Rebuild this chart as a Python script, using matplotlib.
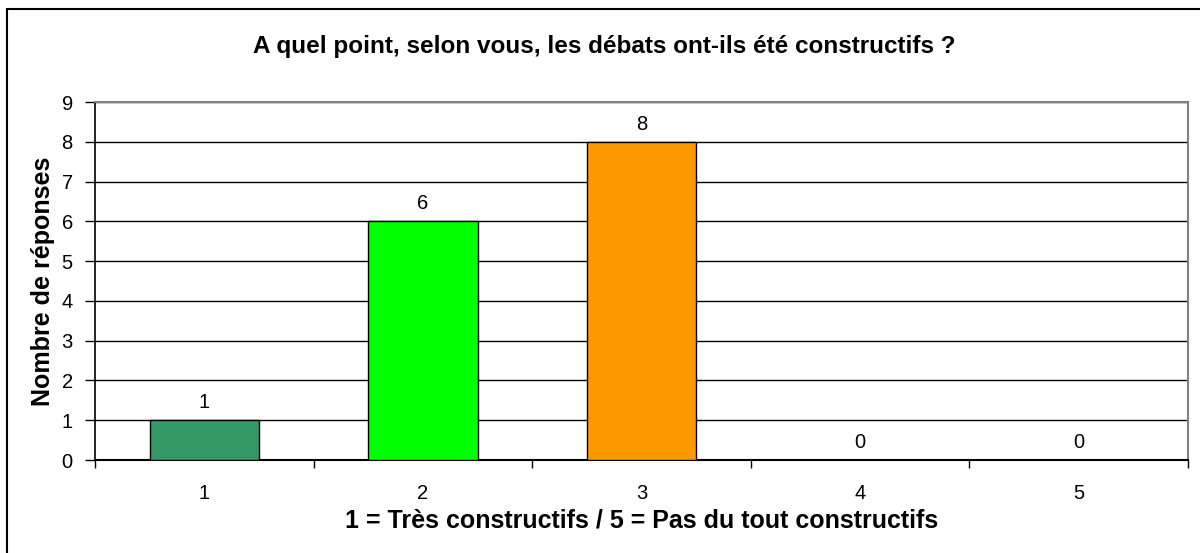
import matplotlib.pyplot as plt
from matplotlib.patches import Rectangle

plt.rcParams['font.family'] = ['Liberation Sans', 'DejaVu Sans']

categories = ["1", "2", "3", "4", "5"]
responses = [1, 6, 8, 0, 0]
bar_colors = ["#339966", "#00FF00", "#FF9900", "#FFFFFF", "#FFFFFF"]

fig = plt.figure(figsize=(12, 5.53), dpi=100)

# outer chart frame (right and bottom edges fall outside the image)
fig.patches.append(Rectangle((7 / 1200, -0.05), 1.2, 1 - 9 / 553 + 0.05,
                             transform=fig.transFigure, fill=False,
                             edgecolor="black", linewidth=1.5))

ax = fig.add_axes([95 / 1200, 1 - 460 / 553, (1188 - 95) / 1200, (460 - 102) / 553])

x = list(range(len(categories)))
for i, v in enumerate(responses):
    if v > 0:
        ax.bar(i, v, width=0.5, color=bar_colors[i], edgecolor="black",
               linewidth=1, zorder=3)
    ax.text(i, v + 0.2, str(v), ha="center", va="bottom", fontsize=14.5)

ax.set_xlim(-0.5, 4.5)
ax.set_ylim(0, 9)
ax.set_yticks(range(10))
ax.set_xticks(x)
ax.set_xticklabels(categories)
ax.set_xticks([i - 0.5 for i in range(6)], minor=True)
ax.tick_params(axis="x", which="major", length=0, labelsize=14.5, pad=17)
ax.tick_params(axis="x", which="minor", length=6, width=1, direction="out")
ax.tick_params(axis="y", length=7, width=1, labelsize=14.5, pad=9)

ax.grid(axis="y", color="black", linewidth=1, zorder=0)
ax.set_axisbelow(True)
ax.spines["top"].set_color("#808080")
ax.spines["right"].set_color("#808080")
ax.spines["top"].set_linewidth(1.5)
ax.spines["right"].set_linewidth(1.5)
ax.spines["left"].set_linewidth(1.2)
ax.spines["bottom"].set_linewidth(1.5)

ax.set_xlabel("1 = Très constructifs / 5 = Pas du tout constructifs",
              fontsize=18, fontweight="bold", labelpad=4)
ax.set_ylabel("Nombre de réponses", fontsize=18, fontweight="bold", labelpad=5)
fig.text(604 / 1200, 1 - 47 / 553,
         "A quel point, selon vous, les débats ont-ils été constructifs ?",
         ha="center", va="center", fontsize=17.5, fontweight="bold")

fig.savefig("out.png", dpi=100)
